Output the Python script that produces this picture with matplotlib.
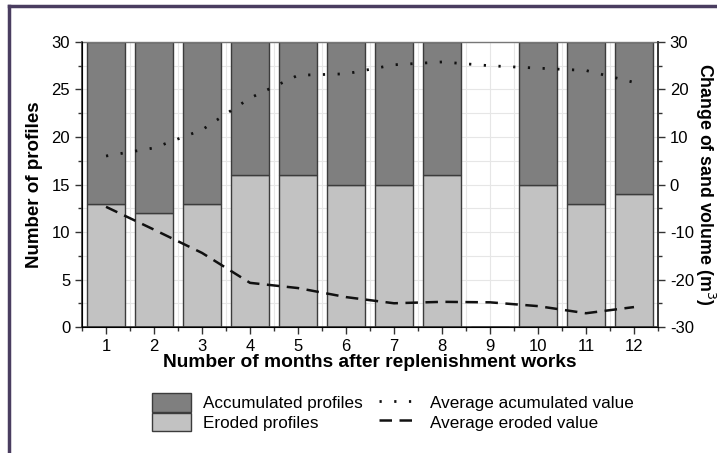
import numpy as np
import matplotlib.pyplot as plt
from matplotlib.lines import Line2D
from matplotlib.patches import Patch
from matplotlib.ticker import MultipleLocator

plt.rcParams['font.family'] = ['Liberation Sans', 'DejaVu Sans']
plt.rcParams['axes.unicode_minus'] = False

months = [1, 2, 3, 4, 5, 6, 7, 8, 9, 10, 11, 12]
eroded = [13, 12, 13, 16, 16, 15, 15, 16, 0, 15, 13, 14]
accumulated = [17, 18, 17, 14, 14, 15, 15, 14, 0, 15, 17, 16]
avg_accumulated = [6, 7.7, 11.5, 18.2, 23, 23.3, 25.2, 25.8, 25, 24.5, 24, 21.5]
avg_eroded = [-4.7, -9.5, -14.4, -20.7, -21.8, -23.7, -25, -24.7, -24.8, -25.6, -27.1, -25.8]

dark = '#7f7f7f'
light = '#c2c2c2'
edge = '#3c3c3c'
dots = (0, (0.8, 4.5))
dashes = (0, (5, 3))

fig = plt.figure(figsize=(7.17, 4.53), dpi=100)
ax = fig.add_axes([0.1144, 0.2781, 0.8033, 0.6292])

ax.grid(True, which='both', color='#e6e6e6', linewidth=0.8, zorder=0)
ax.set_axisbelow(True)
ax.bar(months, eroded, width=0.8, color=light, edgecolor=edge, linewidth=1, zorder=2)
ax.bar(months, accumulated, width=0.8, bottom=eroded, color=dark, edgecolor=edge,
       linewidth=1, zorder=2)

ax.set_xlim(0.5, 12.5)
ax.set_ylim(0, 30)
ax.xaxis.set_major_locator(MultipleLocator(1))
ax.xaxis.set_minor_locator(MultipleLocator(0.5))
ax.yaxis.set_major_locator(MultipleLocator(5))
ax.yaxis.set_minor_locator(MultipleLocator(2.5))
ax.tick_params(which='major', length=5, width=1, labelsize=12, color='#333333')
ax.tick_params(which='minor', length=3, width=1, color='#333333')
for s in ['left', 'bottom', 'right']:
    ax.spines[s].set_linewidth(1.2)
    ax.spines[s].set_color('#333333')
ax.spines['top'].set_color('#777777')
ax.spines['top'].set_linewidth(1)

ax.set_ylabel('Number of profiles', fontsize=13.5, fontweight='bold', labelpad=6)
ax.set_xlabel('Number of months after replenishment works', fontsize=13.8,
              fontweight='bold', labelpad=0)

ax2 = ax.twinx()
ax2.plot(months, avg_accumulated, color='#111111', linestyle=dots,
         linewidth=2, zorder=3)
ax2.plot(months, avg_eroded, color='#111111', linestyle=dashes,
         linewidth=1.8, zorder=3)
ax2.set_ylim(-30, 30)
ax2.yaxis.set_major_locator(MultipleLocator(10))
ax2.yaxis.set_minor_locator(MultipleLocator(5))
ax2.tick_params(which='major', length=5, width=1, labelsize=12, color='#333333')
ax2.tick_params(which='minor', length=3, width=1, color='#333333')
ax2.spines['right'].set_linewidth(1.2)
ax2.spines['right'].set_color('#333333')
ax2.spines['top'].set_visible(False)
# right axis title placed by hand so it sits at the image edge like the original
fig.text(705 / 717, 0.5927, 'Change of sand volume (m$^3$)', fontsize=12.8,
         fontweight='bold', rotation=270, ha='center', va='center')

handles = [
    Patch(facecolor=dark, edgecolor=edge, label='Accumulated profiles'),
    Patch(facecolor=light, edgecolor=edge, label='Eroded profiles'),
    Line2D([], [], color='#111111', linestyle=dots, linewidth=2,
           label='Average acumulated value'),
    Line2D([], [], color='#111111', linestyle=dashes, linewidth=1.8,
           label='Average eroded value'),
]
fig.legend(handles=handles, loc='center', bbox_to_anchor=(0.548, 0.09), ncol=2,
           frameon=False, fontsize=12.3, handlelength=2.3, handleheight=1.3,
           columnspacing=0.9, labelspacing=0.05, handletextpad=0.7)

# frame lines on top and left edge
fig.add_artist(Line2D([0.0125, 1.0], [0.986, 0.986], color='#4a3d60', linewidth=2.5))
fig.add_artist(Line2D([0.0125, 0.0125], [0.0, 0.986], color='#4a3d60', linewidth=2.5))

fig.savefig('out.png', dpi=100)
